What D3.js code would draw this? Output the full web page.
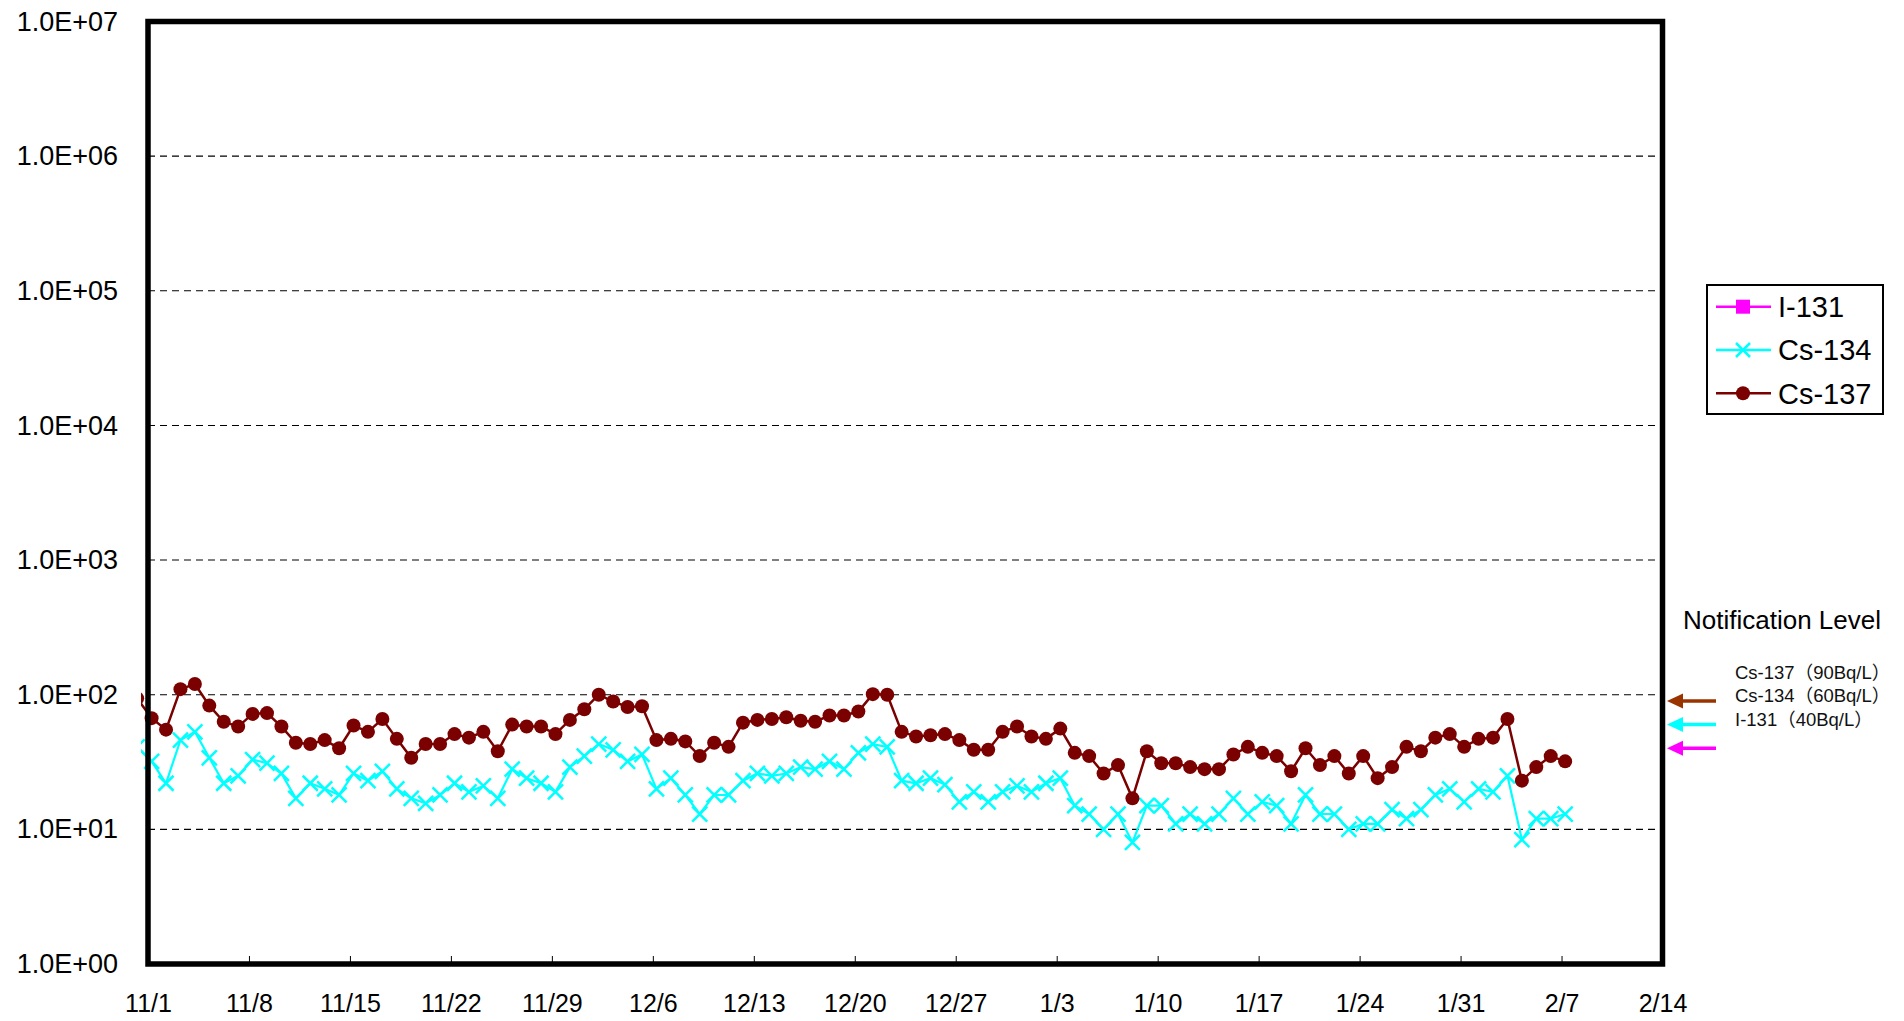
<!DOCTYPE html>
<html>
<head>
<meta charset="utf-8">
<script src="https://cdn.jsdelivr.net/npm/d3@7"></script>
<style>
body{margin:0;background:#fff;}
svg{display:block;font-family:"Liberation Sans",Arial,"Noto Sans CJK JP",sans-serif;}
</style>
</head>
<body>
<svg id="chart" width="1904" height="1021"></svg>
<script>
// daily samples 10/31 .. 2/7
const firstDay = "2011-10-31", lastDay = "2012-02-07";
const sampleHour = 6;

const cs137 = [94,
  67,55,110,120,83,63,58,72,73,58,44,43,46,40,59,53,66,47,34,43,43,51,48,53,38,60,58,58,51,65,
  78,100,89,81,82,46,47,45,35,44,41,62,65,66,68,64,63,70,70,75,101,100,53,49,50,51,46,39,39,53,58,
  49,47,56,37,35,26,30,17,38,31,31,29,28,28,36,41,37,35,27,40,30,35,26,35,24,29,41,38,48,51,41,
  47,48,66,23,29,35,32];
const cs134 = [41,
  32,22,46,53,34,22,25,33,31,26,17,22,20,18,26,23,27,20,17,15.6,18,22,19,21,17,28,24,22,19,29,
  35,43,39,32,36,20,24,18,13,18,18,23,26,25,26,29,28,32,28,37,43,41,23,22,24,21.5,16,19,16,19,21,
  19,22,24,15,13,10,13,8,15,15,11,13,11,13,17,13,16,15,11,18,13,13,10,11,11,14,12,14,18,20,16,
  20,19,25,8.4,12,12,13];
const i131 = []; // not detected, legend only

const xTickLabels = ["11/1","11/8","11/15","11/22","11/29","12/6","12/13","12/20","12/27","1/3","1/10","1/17","1/24","1/31","2/7","2/14"];
const yTicks = [1,1e1,1e2,1e3,1e4,1e5,1e6,1e7];

const legendNames = ["I-131","Cs-134","Cs-137"];
const notifyLabels = ["Cs-137（90Bq/L）","Cs-134（60Bq/L）","I-131（40Bq/L）"];
const notifyLevels = [90,60,40];
const notifyColors = ["#993300","#00FFFF","#FF00FF"];

const parse = d3.timeParse("%Y-%m-%d");
const dates = d3.timeDay.range(parse(firstDay), d3.timeDay.offset(parse(lastDay),1)).map(d=>d3.timeHour.offset(d,sampleHour));
const rows = dates.map((d,i)=>({date:d,cs134:cs134[i],cs137:cs137[i]}));

const svg = d3.select("#chart");
const L=148, R=1662.5, T=21.5, B=964;

const x = d3.scaleTime().domain([parse("2011-11-01"),parse("2012-02-14")]).range([L,R]);
const y = d3.scaleLog().domain([1,1e7]).range([B,T]);

// grid
svg.append("g").selectAll("line").data(yTicks.slice(1,-1)).join("line")
  .attr("x1",L).attr("x2",R).attr("y1",d=>y(d)).attr("y2",d=>y(d))
  .attr("stroke","#000").attr("stroke-width",1.1).attr("stroke-dasharray","7,5");

// y axis labels
const yAxis = svg.append("g").attr("transform","translate("+L+",0)")
  .call(d3.axisLeft(y).tickValues(yTicks).tickSize(0).tickPadding(30)
    .tickFormat(d=>"1.0E+"+String(Math.round(Math.log10(d))).padStart(2,"0")));
yAxis.select(".domain").remove();
yAxis.selectAll("text").attr("font-size",27).attr("font-family",null).attr("fill","#000");

// x axis
const tickDates = xTickLabels.map((t,i)=>d3.timeDay.offset(parse("2011-11-01"),i*7));
const xAxis = svg.append("g").attr("transform","translate(0,"+B+")")
  .call(d3.axisBottom(x).tickValues(tickDates).tickSizeInner(-8).tickSizeOuter(0).tickPadding(30)
    .tickFormat((d,i)=>xTickLabels[i]));
xAxis.select(".domain").remove();
xAxis.selectAll("line").attr("stroke","#000");
xAxis.selectAll("text").attr("font-size",25).attr("font-family",null).attr("fill","#000");

// series, clipped a little left of the frame like the original
svg.append("clipPath").attr("id","plotclip").append("rect")
  .attr("x",L-7).attr("y",T).attr("width",R-L+7).attr("height",B-T);
const plot = svg.append("g").attr("clip-path","url(#plotclip)");

const line134 = d3.line().x(d=>x(d.date)).y(d=>y(d.cs134));
const line137 = d3.line().x(d=>x(d.date)).y(d=>y(d.cs137));

plot.append("path").datum(rows).attr("d",line134).attr("fill","none").attr("stroke","#00FFFF").attr("stroke-width",2.2);
plot.append("g").selectAll("path").data(rows).join("path")
  .attr("transform",d=>"translate("+x(d.date)+","+y(d.cs134)+")")
  .attr("d","M-7.5,-7.5L7.5,7.5M-7.5,7.5L7.5,-7.5")
  .attr("stroke","#00FFFF").attr("stroke-width",2.5).attr("fill","none");

plot.append("path").datum(rows).attr("d",line137).attr("fill","none").attr("stroke","#7B0000").attr("stroke-width",2.5);
plot.append("g").selectAll("circle").data(rows).join("circle")
  .attr("cx",d=>x(d.date)).attr("cy",d=>y(d.cs137)).attr("r",7).attr("fill","#7B0000");

// frame
svg.append("rect").attr("x",L).attr("y",T).attr("width",R-L).attr("height",B-T)
  .attr("fill","none").attr("stroke","#000").attr("stroke-width",5.5);

// legend
const lg = svg.append("g");
lg.append("rect").attr("x",1707).attr("y",285).attr("width",176).attr("height",129)
  .attr("fill","#fff").attr("stroke","#000").attr("stroke-width",2);
const lcol = ["#FF00FF","#00FFFF","#7B0000"];
legendNames.forEach((n,i)=>{
  const ly = 306.7+i*43.3;
  const g = lg.append("g").attr("transform","translate(0,"+ly+")");
  g.append("line").attr("x1",1716).attr("x2",1771).attr("stroke",lcol[i]).attr("stroke-width",2.5);
  if(i===0)g.append("rect").attr("x",1736).attr("y",-7).attr("width",14).attr("height",14).attr("fill",lcol[i]);
  if(i===1)g.append("path").attr("d","M1736,-7L1750,7M1736,7L1750,-7").attr("stroke",lcol[i]).attr("stroke-width",2.5);
  if(i===2)g.append("circle").attr("cx",1743).attr("r",7).attr("fill",lcol[i]);
  g.append("text").attr("x",1778).attr("dy","0.36em").attr("font-size",29).text(n);
});

// notification levels
svg.append("text").attr("x",1683).attr("y",620).attr("dy","0.36em").attr("font-size",26).text("Notification Level");
svg.append("g").selectAll("text").data(notifyLabels).join("text")
  .attr("x",1735).attr("y",(d,i)=>672+i*23.8).attr("dy","0.36em").attr("font-size",18.5).attr("fill","#111").text(d=>d);
const arr = svg.append("g").selectAll("g").data(notifyLevels).join("g")
  .attr("transform",d=>"translate(0,"+y(d)+")");
arr.append("line").attr("x1",1680).attr("x2",1716).attr("stroke",(d,i)=>notifyColors[i]).attr("stroke-width",3.5);
arr.append("path").attr("d","M1667,0L1683,-7.5L1683,7.5Z").attr("fill",(d,i)=>notifyColors[i]);
</script>
</body>
</html>
